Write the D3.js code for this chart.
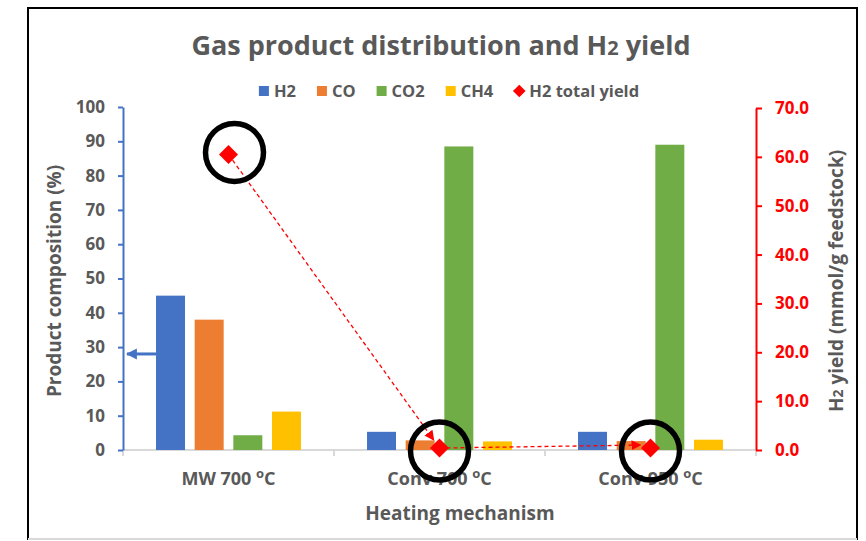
<!DOCTYPE html>
<html><head><meta charset="utf-8">
<script src="https://cdn.jsdelivr.net/npm/d3@7"></script>
<style>
body{margin:0;background:#fff}
text{font-family:"Open Sans",sans-serif}
</style>
</head><body><div id="chart"></div>
<script>
// data
const categories = ["MW 700", "Conv 700", "Conv 950"];
const gases = ["H2", "CO", "CO2", "CH4"];
const h2 = [45.0, 5.3, 5.3];
const co = [38.0, 2.8, 2.6];
const co2 = [4.3, 88.5, 89.0];
const ch4 = [11.2, 2.5, 3.0];
const h2Yield = [60.5, 0.4, 0.4];
const leftTicks = [0, 10, 20, 30, 40, 50, 60, 70, 80, 90, 100];
const rightTicks = [0, 10, 20, 30, 40, 50, 60, 70];
const colors = ["#4472C4", "#ED7D31", "#70AD47", "#FFC000"];

const width = 866, height = 541;
const plotLeft = 123, plotRight = 756, plotTop = 107, plotBottom = 450;
const gray = "#595959", red = "#FF0000";

let svg = d3.select("#chart").append("svg")
    .attr("width", width).attr("height", height);

// frame
svg.append("rect").attr("x", 0).attr("y", 0).attr("width", width).attr("height", height).attr("fill", "#fff");
svg.append("path").attr("d", "M28,540 V8 H857 V540").attr("fill", "none").attr("stroke", "#000").attr("stroke-width", 2);
svg.append("line").attr("x1", 28).attr("x2", 857).attr("y1", 539).attr("y2", 539).attr("stroke", "#d9d9d9").attr("stroke-width", 2);

let x0 = d3.scaleBand().domain(categories).range([plotLeft, plotRight]).paddingInner(0.313).paddingOuter(0.1565);
let x1 = d3.scaleBand().domain(gases).range([0, x0.bandwidth()]).paddingInner(0.25);
let yL = d3.scaleLinear().domain([0, 100]).range([plotBottom, plotTop]);
let yR = d3.scaleLinear().domain([0, 70]).range([plotBottom, 108]);

let rows = categories.map(function(c, i) {
    return {cat: c, vals: [h2[i], co[i], co2[i], ch4[i]]};
});

// x axis baseline and category ticks
let step = x0.step();
svg.append("line").attr("x1", plotLeft).attr("x2", plotRight).attr("y1", plotBottom).attr("y2", plotBottom)
    .attr("stroke", "#d9d9d9").attr("stroke-width", 2);
svg.selectAll(".xtick").data(d3.range(categories.length + 1)).enter().append("line")
    .attr("x1", function(d) { return plotLeft + d * step; })
    .attr("x2", function(d) { return plotLeft + d * step; })
    .attr("y1", plotBottom).attr("y2", plotBottom + 6)
    .attr("stroke", "#d9d9d9").attr("stroke-width", 2);

// bars
let groups = svg.selectAll(".grp").data(rows).enter().append("g")
    .attr("transform", function(d) { return "translate(" + x0(d.cat) + ",0)"; });
groups.selectAll("rect").data(function(d) { return d.vals; }).enter().append("rect")
    .attr("x", function(d, i) { return x1(gases[i]); })
    .attr("y", function(d) { return yL(d); })
    .attr("width", x1.bandwidth())
    .attr("height", function(d) { return plotBottom - yL(d); })
    .attr("fill", function(d, i) { return colors[i]; });

// left axis
let axL = svg.append("g").attr("transform", "translate(" + plotLeft + ",0)")
    .call(d3.axisLeft(yL).tickValues(leftTicks).tickSize(5).tickPadding(13).tickSizeOuter(0));
axL.select(".domain").attr("stroke", "#4472C4").attr("stroke-width", 2);
axL.selectAll(".tick line").attr("stroke", "#4472C4").attr("stroke-width", 2);
axL.selectAll(".tick text").attr("fill", gray).style("font-size", "17px").style("font-weight", "bold")
    .style("font-family", "Open Sans");

// right axis
let axR = svg.append("g").attr("transform", "translate(" + plotRight + ",0)")
    .call(d3.axisRight(yR).tickValues(rightTicks).tickFormat(d3.format(".1f")).tickSize(6).tickPadding(13).tickSizeOuter(0));
axR.select(".domain").attr("stroke", red).attr("stroke-width", 2);
axR.selectAll(".tick line").attr("stroke", red).attr("stroke-width", 2);
axR.selectAll(".tick text").attr("fill", red).style("font-size", "17px").style("font-weight", "bold")
    .style("font-family", "Open Sans");

// category labels
let xl = svg.selectAll(".xlab").data(categories).enter().append("text")
    .attr("x", function(d) { return x0(d) + x0.bandwidth() / 2; })
    .attr("y", 485).attr("text-anchor", "middle")
    .attr("fill", gray).style("font-size", "18px").style("font-weight", "bold");
xl.append("tspan").text(function(d) { return d + " "; });
xl.append("tspan").text("o").attr("dy", -7).style("font-size", "13px");
xl.append("tspan").text("C").attr("dy", 7);

// axis titles
svg.append("text").attr("x", 460).attr("y", 520).attr("text-anchor", "middle")
    .attr("fill", gray).style("font-size", "19px").style("font-weight", "bold").text("Heating mechanism");
svg.append("text").attr("transform", "translate(61,281) rotate(-90)").attr("text-anchor", "middle")
    .attr("fill", gray).style("font-size", "19px").style("font-weight", "bold").text("Product composition (%)");
let rt = svg.append("text").attr("transform", "translate(843,281) rotate(-90)").attr("text-anchor", "middle")
    .attr("fill", gray).style("font-size", "19px").style("font-weight", "bold");
rt.append("tspan").text("H");
rt.append("tspan").text("2").style("font-size", "14px");
rt.append("tspan").text(" yield (mmol/g feedstock)");

// title
let tt = svg.append("text").attr("x", 441).attr("y", 55).attr("text-anchor", "middle")
    .attr("fill", gray).style("font-size", "27px").style("font-weight", "bold");
tt.append("tspan").text("Gas product distribution and H");
tt.append("tspan").text("2").style("font-size", "20px");
tt.append("tspan").text(" yield");

// arrow markers
let defs = svg.append("defs");
defs.append("marker").attr("id", "redArrow").attr("viewBox", "0 0 10 10").attr("refX", 9).attr("refY", 5)
    .attr("markerWidth", 10).attr("markerHeight", 10).attr("markerUnits", "userSpaceOnUse").attr("orient", "auto")
    .append("path").attr("d", "M0,0 L10,5 L0,10 Z").attr("fill", red);
defs.append("marker").attr("id", "blueArrow").attr("viewBox", "0 0 10 10").attr("refX", 9).attr("refY", 5)
    .attr("markerWidth", 11).attr("markerHeight", 12).attr("markerUnits", "userSpaceOnUse").attr("orient", "auto")
    .append("path").attr("d", "M0,0 L10,5 L0,10 Z").attr("fill", "#4472C4");

// H2 total yield line
let pts = categories.map(function(c, i) {
    return [x0(c) + x0.bandwidth() / 2, yR(h2Yield[i])];
});
let segs = d3.pairs(pts).map(function(p) {
    let dx = p[1][0] - p[0][0], dy = p[1][1] - p[0][1], len = Math.hypot(dx, dy);
    let cut = 10;
    return [p[0], [p[1][0] - dx / len * cut, p[1][1] - dy / len * cut - (Math.abs(dy) < 1 ? 3 : 0)]];
});
svg.selectAll(".seg").data(segs).enter().append("path")
    .attr("d", function(d) { return d3.line()(d); })
    .attr("fill", "none").attr("stroke", red).attr("stroke-width", 1.3)
    .attr("stroke-dasharray", "4,3").attr("marker-end", "url(#redArrow)");
svg.selectAll(".dia").data(pts).enter().append("path")
    .attr("d", d3.symbol().type(d3.symbolSquare).size(180))
    .attr("transform", function(d) { return "translate(" + d[0] + "," + d[1] + ") rotate(45)"; })
    .attr("fill", red);

// black annotation circles
svg.selectAll(".ring").data(pts).enter().append("circle")
    .attr("cx", function(d, i) { return d[0] + (i == 0 ? 6 : 0); })
    .attr("cy", function(d, i) { return d[1] + (i == 0 ? -2 : 3); })
    .attr("r", 29).attr("fill", "none").attr("stroke", "#000").attr("stroke-width", 5.5);

// blue arrow pointing to left axis
let bx = x0(categories[0]) + x1("H2");
svg.append("line").attr("x1", bx).attr("x2", plotLeft + 4).attr("y1", yL(28)).attr("y2", yL(28))
    .attr("stroke", "#4472C4").attr("stroke-width", 3).attr("marker-end", "url(#blueArrow)");

// legend
let legendItems = [
    {name: "H2", color: colors[0], shape: "square"},
    {name: "CO", color: colors[1], shape: "square"},
    {name: "CO2", color: colors[2], shape: "square"},
    {name: "CH4", color: colors[3], shape: "square"},
    {name: "H2 total yield", color: red, shape: "diamond"}
];
let lg = svg.append("g");
let lx = 0, gap = 21;
legendItems.forEach(function(d) {
    let g = lg.append("g").attr("transform", "translate(" + lx + ",0)");
    if (d.shape == "square") {
        g.append("rect").attr("x", 0).attr("y", -5).attr("width", 10).attr("height", 10).attr("fill", d.color);
    } else {
        g.append("path").attr("d", d3.symbol().type(d3.symbolSquare).size(80))
            .attr("transform", "translate(5,0) rotate(45)").attr("fill", d.color);
    }
    let t = g.append("text").attr("x", 15).attr("y", 6).attr("fill", gray)
        .style("font-size", "16.5px").style("font-weight", "bold").text(d.name);
    lx += 15 + t.node().getComputedTextLength() + gap;
});
lx -= gap;
lg.attr("transform", "translate(" + (449 - lx / 2) + ",91)");
</script>
</body></html>
